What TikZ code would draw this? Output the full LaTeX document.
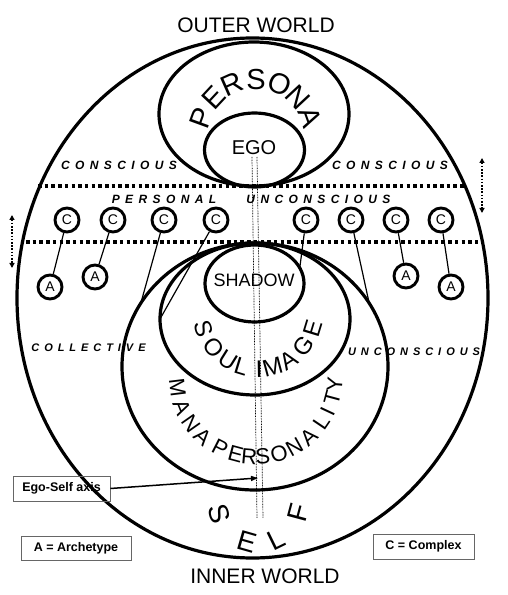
\documentclass[tikz,border=0pt]{standalone}
\usepackage{fontspec}
\setmainfont{Liberation Sans}
\newfontfamily\spacedfont{Liberation Sans}[LetterSpace=45]
\usetikzlibrary{shapes.geometric,arrows.meta}

\begin{document}
\begin{tikzpicture}[
    x=1pt, y=1pt,
    ring/.style={ellipse, draw, line width=3.2pt, inner sep=0pt, outer sep=0pt},
    cnode/.style={circle, draw, line width=2.9pt, minimum size=24pt, inner sep=0pt, font=\fontsize{14}{14}\selectfont},
    link/.style={line width=1.2pt},
    border/.style={line width=3.2pt, dash pattern=on 3.5pt off 3.2pt},
    axisline/.style={line width=0.7pt, dash pattern=on 0.8pt off 0.8pt},
    updown/.style={line width=1.8pt, dash pattern=on 1.6pt off 1.6pt, {Triangle[length=5pt,width=5pt]}-{Triangle[length=5pt,width=5pt]}},
    tag/.style={font=\fontsize{12}{12}\selectfont\spacedfont\bfseries\itshape},
    smalltag/.style={font=\fontsize{11}{11}\selectfont\spacedfont\bfseries\itshape},
    legend/.style={rectangle, draw=black!60, line width=0.9pt, inner sep=0pt, font=\fontsize{12.5}{12.5}\selectfont\bfseries},
    world/.style={font=\fontsize{21}{21}\selectfont}
]
\useasboundingbox (0,0) rectangle (508,595);

% Ellipses
\node[ring, minimum width=471pt, minimum height=520pt] (outer) at (252.5,297) {};
\node[ring, minimum width=190pt, minimum height=144pt] (persona) at (254,481) {};
\node[ring, minimum width=100pt, minimum height=74pt] (ego) at (254.5,445) {};
\node[ring, minimum width=99pt, minimum height=77pt] (shadow) at (254.5,311.5) {};
\node[ring, minimum width=190pt, minimum height=152pt] (soul) at (255,276) {};
\node[ring, minimum width=266pt, minimum height=247pt] (mana) at (255,228.5) {};

% Texts in the ellipses
\node[font=\fontsize{20}{20}\selectfont] (egotxt) at (254,447) {EGO};
\node[font=\fontsize{18}{18}\selectfont] (shadowtxt) at (254,315) {SHADOW};

% Letters on arcs
\foreach \l/\a [count=\i] in {P/160,E/137,R/114,S/90,O/66,N/43,A/20}
  \node[font=\fontsize{29}{29}\selectfont, rotate=\a-90] (pers\i) at ([shift={(\a:58)}]256,457.6) {\l};
\foreach \l/\a [count=\i] in {S/197,O/219,U/238,L/253,I/271,M/285,A/303,G/323,E/343}
  \node[font=\fontsize{24}{24}\selectfont, rotate=\a+90] (soul\i) at ([shift={(\a:57)}]258,283) {\l};
\foreach \l/\a [count=\i] in {M/187,A/202,N/215,A/228,P/243,E/255,R/265,S/275,O/287,N/299,A/312,L/326,I/335,T/345,Y/355}
  \node[font=\fontsize{22}{22}\selectfont, rotate=\a+90] (mana\i) at ([shift={(\a:79)}]256,217) {\l};
\foreach \l/\a [count=\i] in {S/196,E/254,L/296,F/345}
  \node[font=\fontsize{28}{28}\selectfont, rotate=\a+90] (self\i) at ([shift={(\a:41)}]258.5,92.5) {\l};

% Level lines
\draw[border] (38,409) -- (464,409);
\draw[border] (26,353) -- (484,353);
\draw[updown] (12,380) -- (12,327);
\draw[updown] (482,437) -- (482,382);

% Ego-Self axis
\draw[axisline] (252,438) -- (257,77);
\draw[axisline] (257,438) -- (263,77);

% Level labels
\node[tag] (conl) at (119,430) {CONSCIOUS};
\node[tag] (conr) at (390,430) {CONSCIOUS};
\node[tag] (pers) at (164,396) {PERSONAL};
\node[tag] (uncon) at (318.5,396) {UNCONSCIOUS};
\node[smalltag] (coll) at (88.5,247) {COLLECTIVE};
\node[smalltag] (uncol) at (414,243) {UNCONSCIOUS};

% Complexes and archetypes
\foreach \x [count=\i] in {67,113,164,216,306,351,396,441}
  \node[cnode] (c\i) at (\x,375) {C};
\node[cnode] (a1) at (50,308) {A};
\node[cnode] (a2) at (95,318) {A};
\node[cnode] (a3) at (406,319) {A};
\node[cnode] (a4) at (451,308) {A};

\draw[link] (c1) -- (a1);
\draw[link] (c2) -- (a2);
\draw[link] (c3) -- (mana.151);
\draw[link] (c4) -- (soul.180);
\draw[link] (c5) -- (shadow.19);
\draw[link] (c6) -- (mana.29);
\draw[link] (c7) -- (a3);
\draw[link] (c8) -- (a4);

% World labels
\node[world] (outerw) at (256,570) {OUTER WORLD};
\node[world] (innerw) at (265,18.5) {INNER WORLD};

% Legend boxes
\node[legend, minimum width=97pt, minimum height=25pt] (axisbox) at (61.5,106.5) {Ego-Self axis};
\coordinate (axispt) at (258,117);
\draw[-{Triangle[length=7pt,width=5pt]}, line width=1.5pt] (axisbox.east) -- (axispt);
\node[legend, minimum width=110pt, minimum height=24pt] (archbox) at (76,47) {A = Archetype};
\node[legend, minimum width=101pt, minimum height=25pt] (compbox) at (423.5,48.5) {C = Complex};

\end{tikzpicture}
\end{document}
